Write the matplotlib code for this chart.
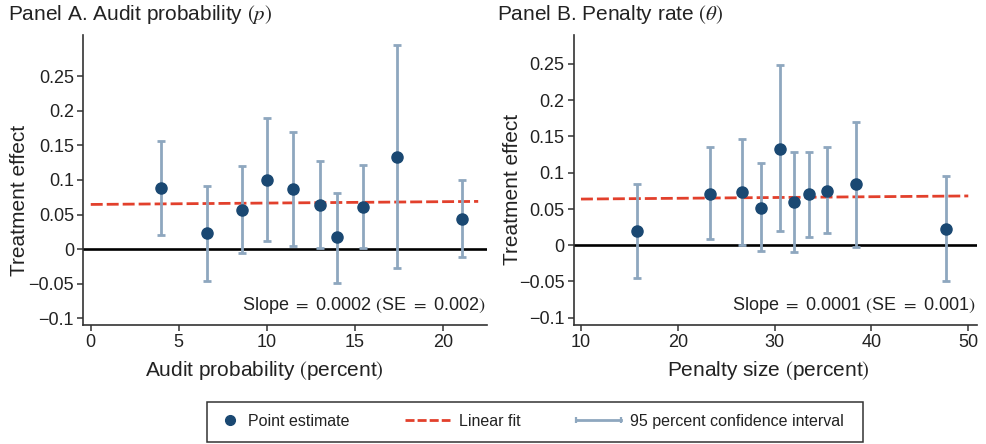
import matplotlib
matplotlib.use("Agg")
import matplotlib.pyplot as plt
from matplotlib.lines import Line2D
from matplotlib.patches import Rectangle
from matplotlib.legend_handler import HandlerLine2D

# ---------------- data ----------------
a_x = [4.0, 6.6, 8.6, 10.0, 11.5, 13.0, 14.0, 15.45, 17.4, 21.1]
a_est = [0.088, 0.023, 0.056, 0.100, 0.087, 0.064, 0.017, 0.061, 0.134, 0.043]
a_lo = [0.020, -0.046, -0.006, 0.012, 0.005, 0.001, -0.049, 0.002, -0.027, -0.012]
a_hi = [0.157, 0.092, 0.120, 0.190, 0.169, 0.127, 0.081, 0.121, 0.296, 0.100]
a_fit_x = [0.0, 22.0]
a_fit_y = [0.0646, 0.0690]

b_x = [15.8, 23.3, 26.6, 28.55, 30.55, 32.0, 33.55, 35.45, 38.4, 47.75]
b_est = [0.020, 0.071, 0.073, 0.052, 0.133, 0.060, 0.070, 0.075, 0.084, 0.022]
b_lo = [-0.045, 0.008, 0.001, -0.008, 0.020, -0.009, 0.011, 0.017, -0.003, -0.050]
b_hi = [0.085, 0.135, 0.146, 0.113, 0.248, 0.129, 0.129, 0.135, 0.170, 0.095]
b_fit_x = [10.0, 50.0]
b_fit_y = [0.0637, 0.0680]

y_ticks = [-0.1, -0.05, 0, 0.05, 0.1, 0.15, 0.2, 0.25]
y_ticklabels = ["\u22120.1", "\u22120.05", "0", "0.05", "0.1", "0.15", "0.2", "0.25"]
a_xticks = [0, 5, 10, 15, 20]
b_xticks = [10, 20, 30, 40, 50]

titles = ["Panel A. Audit probability $(p)$", r"Panel B. Penalty rate $(\theta)$"]
xlabels = ["Audit probability $($percent$)$", "Penalty size $($percent$)$"]
ylabel = "Treatment effect"
slopes = ["Slope $=$ 0.0002 $($SE $=$ 0.002$)$", "Slope $=$ 0.0001 $($SE $=$ 0.001$)$"]
legend_labels = ["Point estimate", "Linear fit", "95 percent confidence interval"]

# ---------------- style ----------------
plt.rcParams["font.family"] = ["Liberation Sans", "DejaVu Sans"]
plt.rcParams["mathtext.fontset"] = "stix"
plt.rcParams["lines.scale_dashes"] = False

NAVY = "#1a4872"
CI = "#8ea7bf"
RED = "#e2402c"
SPINE = "#333333"
TXT = "#222222"

W, H = 986, 444
fig = plt.figure(figsize=(W / 100, H / 100), dpi=100)

panels = [
    dict(x=a_x, est=a_est, lo=a_lo, hi=a_hi, fx=a_fit_x, fy=a_fit_y, xt=a_xticks,
         rect=[83 / W, (H - 325) / H, 404 / W, 290 / H], xlim=(-0.44, 22.5), ylim=(-0.11, 0.31),
         ylab=(-0.157, 0.43), xlab=(0.45, -0.158), tx=8 / W),
    dict(x=b_x, est=b_est, lo=b_lo, hi=b_hi, fx=b_fit_x, fy=b_fit_y, xt=b_xticks,
         rect=[573.7 / W, (H - 325) / H, 403 / W, 290 / H], xlim=(9.25, 50.87), ylim=(-0.11, 0.29),
         ylab=(-0.151, 0.466), xlab=(0.484, -0.158), tx=497 / W),
]

for i, p in enumerate(panels):
    ax = fig.add_axes(p["rect"])
    ax.axhline(0, color="black", lw=1.9, zorder=1)
    ax.plot(p["fx"], p["fy"], color=RED, lw=2.0, dashes=(8.6, 2.9), zorder=2)
    yerr = [[e - l for e, l in zip(p["est"], p["lo"])], [h - e for e, h in zip(p["est"], p["hi"])]]
    ax.errorbar(p["x"], p["est"], yerr=yerr, fmt="none", ecolor=CI, elinewidth=2.0,
                capsize=2.6, capthick=2.0, zorder=3)
    ax.plot(p["x"], p["est"], "o", color=NAVY, ms=8, mec=NAVY, zorder=4)

    ax.set_xlim(*p["xlim"])
    ax.set_ylim(*p["ylim"])
    ax.set_xticks(p["xt"])
    ax.set_xticklabels([str(v) for v in p["xt"]])
    ax.set_yticks(y_ticks)
    ax.set_yticklabels(y_ticklabels)
    for s in ["top", "right"]:
        ax.spines[s].set_visible(False)
    for s in ["left", "bottom"]:
        ax.spines[s].set_color(SPINE)
        ax.spines[s].set_linewidth(1.2)
    ax.tick_params(direction="out", length=4, width=1.1, color=SPINE, labelsize=13,
                   labelcolor=TXT, pad=2.5)

    ax.set_ylabel(ylabel, fontsize=15, color=TXT, va="center")
    ax.yaxis.set_label_coords(*p["ylab"])
    ax.set_xlabel(xlabels[i], fontsize=15, color=TXT, va="center")
    ax.xaxis.set_label_coords(*p["xlab"])

    ax.text(0.997, 0.066, slopes[i], transform=ax.transAxes, ha="right", va="center",
            fontsize=13, color=TXT)

    fig.text(p["tx"], (H - 15) / H, titles[i], fontsize=15, color=TXT, ha="left", va="center")


# ---------------- legend ----------------
class RightMarker(HandlerLine2D):
    def get_xdata(self, legend, xdescent, ydescent, width, height, fontsize):
        xm = -xdescent + width - 0.55 * fontsize
        return [xm - 1, xm + 1], [xm]


h_point = Line2D([], [], ls="none", marker="o", color=NAVY, ms=7)
h_fit = Line2D([], [], color=RED, lw=2.0, dashes=(6.5, 2.2))
h_ci = Line2D([], [], color=CI, lw=2.0, marker="|", ms=4, mew=1.6)

fig.legend([h_point, h_fit, h_ci], legend_labels, ncol=3, frameon=False,
           loc="center left", bbox_to_anchor=(194 / W, (H - 421) / H),
           bbox_transform=fig.transFigure, fontsize=11.5, handlelength=2.8,
           handletextpad=0.56, columnspacing=3.5, borderpad=0, borderaxespad=0,
           handler_map={h_point: RightMarker(), h_ci: HandlerLine2D(numpoints=2, marker_pad=0)},
           labelcolor=TXT)

fig.add_artist(Rectangle((207 / W, 2.5 / H), (863 - 207) / W, 39.5 / H, transform=fig.transFigure,
                         fill=False, ec=SPINE, lw=1.1))

fig.savefig("out.png", dpi=100)
